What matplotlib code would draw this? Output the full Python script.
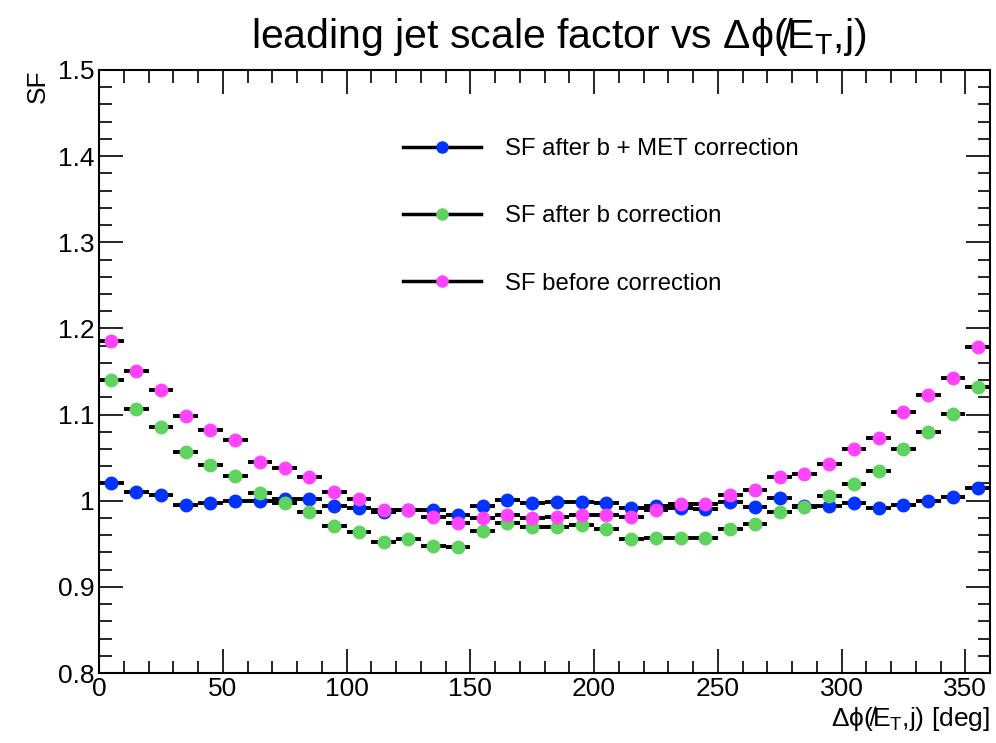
import numpy as np
import matplotlib
matplotlib.use("Agg")
import matplotlib.pyplot as plt
from matplotlib.ticker import MultipleLocator
from matplotlib.lines import Line2D

plt.rcParams['font.family'] = ['Liberation Sans', 'DejaVu Sans']
plt.rcParams['mathtext.fontset'] = 'custom'
plt.rcParams['mathtext.rm'] = 'Liberation Sans'
plt.rcParams['mathtext.it'] = 'Liberation Sans'

# bin centres of dphi (deg), 10 deg bins
dphi = np.arange(5, 360, 10)

sf_b_met = [1.021, 1.010, 1.007, 0.995, 0.997, 1.000, 1.000, 1.002, 1.002, 0.994,
            0.992, 0.987, 0.989, 0.989, 0.983, 0.994, 1.001, 0.997, 0.999, 0.999,
            0.997, 0.991, 0.994, 0.992, 0.990, 0.998, 0.993, 1.003, 0.994, 0.994,
            0.997, 0.991, 0.995, 1.000, 1.004, 1.015]
sf_b = [1.140, 1.106, 1.086, 1.057, 1.041, 1.029, 1.009, 0.997, 0.987, 0.971,
        0.964, 0.952, 0.956, 0.948, 0.946, 0.965, 0.974, 0.970, 0.970, 0.972,
        0.967, 0.955, 0.957, 0.957, 0.957, 0.967, 0.973, 0.987, 0.993, 1.005,
        1.019, 1.034, 1.060, 1.080, 1.101, 1.132]
sf_before = [1.185, 1.151, 1.129, 1.098, 1.082, 1.071, 1.045, 1.038, 1.027, 1.010,
             1.002, 0.989, 0.989, 0.981, 0.974, 0.980, 0.983, 0.980, 0.981, 0.983,
             0.983, 0.981, 0.989, 0.996, 0.996, 1.007, 1.013, 1.027, 1.031, 1.043,
             1.060, 1.073, 1.103, 1.123, 1.143, 1.179]

series = [
    (sf_b_met, '#0033ff', 'SF after b + MET correction'),
    (sf_b, '#5fd35f', 'SF after b correction'),
    (sf_before, '#ff44ff', 'SF before correction'),
]

fig = plt.figure(figsize=(9.96, 7.43), dpi=100)
ax = fig.add_axes([0.0994, 0.0942, 0.8946, 0.8116])

handles = []
for vals, col, lab in series:
    ax.errorbar(dphi, vals, xerr=5, fmt='o', color=col, ms=9, mec=col,
                ecolor='black', elinewidth=2.8, capsize=0)
    # legend entry like ROOT's "lep": black line with the marker on it
    handles.append(Line2D([], [], color='black', lw=2.5, marker='o', ms=8,
                          mfc=col, mec=col, label=lab))

ax.set_xlim(0, 360)
ax.set_ylim(0.8, 1.5)
ax.xaxis.set_major_locator(MultipleLocator(50))
ax.xaxis.set_minor_locator(MultipleLocator(10))
ax.yaxis.set_major_locator(MultipleLocator(0.1))
ax.yaxis.set_minor_locator(MultipleLocator(0.02))
ax.yaxis.set_major_formatter(plt.FuncFormatter(lambda v, p: '%g' % round(v, 2)))
ax.tick_params(which='both', direction='in', top=True, right=True, labelsize=19, width=1.2)
ax.tick_params(which='major', length=17, pad=3)
ax.tick_params(which='minor', length=9)
for s in ax.spines.values():
    s.set_linewidth(1.5)

ax.set_ylabel('SF', fontsize=19, loc='top', labelpad=6)
ax.set_xlabel(r'$\Delta\phi$($\not{E}_{T}$,j) [deg]', fontsize=19, loc='right', labelpad=2)
fig.text(0.561, 0.978, r'leading jet scale factor vs $\Delta\phi$($\not{E}_{T}$,j)',
         fontsize=29.5, ha='center', va='top')

ax.legend(handles=handles, loc='upper left', bbox_to_anchor=(0.3165, 0.923),
          frameon=False, fontsize=17.2, labelspacing=1.9, handlelength=3.3,
          handletextpad=1.0)

fig.savefig('out.png', dpi=100)
